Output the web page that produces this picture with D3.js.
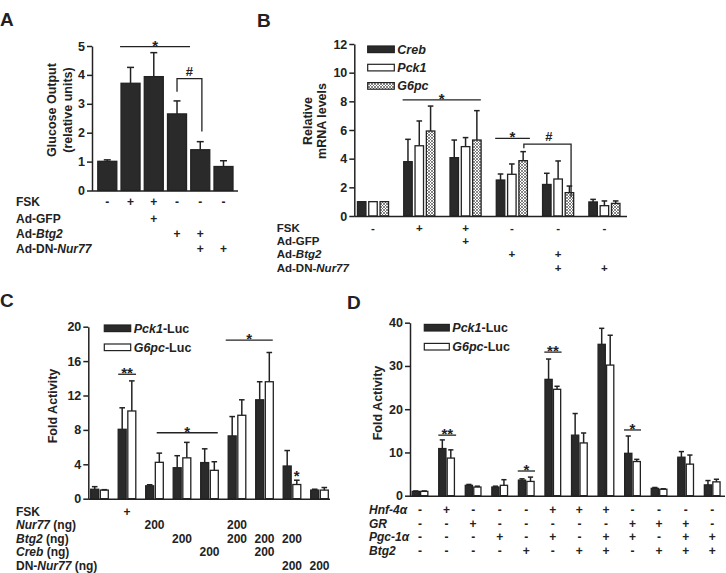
<!DOCTYPE html>
<html>
<head>
<meta charset="utf-8">
<script src="https://cdn.jsdelivr.net/npm/d3@7"></script>
<style>
body{margin:0;background:#fff}
svg{display:block;font-family:"Liberation Sans",Arial,sans-serif;font-weight:bold}
</style>
</head>
<body>
<svg id="fig" width="726" height="573"></svg>
<script>
'use strict'

// ---- panel A: glucose output ----
const aGlucose = [1.01, 3.71, 3.94, 2.65, 1.41, 0.83]
const aGlucoseErr = [0.05, 0.55, 0.83, 0.45, 0.28, 0.2]
const aRows = ['FSK', 'Ad-GFP', 'Ad-*Btg2*', 'Ad-DN-*Nur77*']
const aMarks = [
    ['-', '+', '+', '-', '-', '-'],
    ['', '', '+', '', '', ''],
    ['', '', '', '+', '+', ''],
    ['', '', '', '', '+', '+']]
const aTicks = [0, 1, 2, 3, 4, 5]

// ---- panel B: relative mRNA ----
const bCreb = [1, 3.79, 4.07, 2.51, 2.2, 0.98]
const bCrebErr = [0, 1.56, 1.23, 0.42, 0.78, 0.18]
const bPck1 = [1, 4.9, 4.84, 2.91, 2.58, 0.72]
const bPck1Err = [0, 1.73, 0.63, 0.72, 1.26, 0.33]
const bG6pc = [1, 5.93, 5.3, 3.86, 1.63, 0.88]
const bG6pcErr = [0, 1.74, 2.05, 0.63, 0.46, 0.17]
const bRows = ['FSK', 'Ad-GFP', 'Ad-*Btg2*', 'Ad-DN-*Nur77*']
const bMarks = aMarks
const bTicks = [0, 2, 4, 6, 8, 10, 12]

// ---- panel C: luciferase, FSK / Nur77 / Btg2 / Creb ----
const cPck1 = [1.1, 8.07, 1.5, 3.6, 4.2, 7.3, 11.5, 3.8, 1.0]
const cPck1Err = [0.3, 2.5, 0.12, 1.4, 1.6, 2.25, 2.1, 1.8, 0.1]
const cG6pc = [1.0, 10.2, 4.23, 4.75, 3.3, 9.7, 13.6, 1.65, 1.0]
const cG6pcErr = [0.05, 3.5, 1.07, 1.8, 1.0, 1.8, 3.4, 0.5, 0.3]
const cRows = ['FSK', '*Nur77* (ng)', '*Btg2* (ng)', '*Creb* (ng)', 'DN-*Nur77* (ng)']
const cMarks = [
    ['', '+', '', '', '', '', '', '', ''],
    ['', '', '200', '', '', '200', '', '', ''],
    ['', '', '', '200', '', '200', '200', '200', ''],
    ['', '', '', '', '200', '', '200', '', ''],
    ['', '', '', '', '', '', '', '200', '200']]
const cTicks = [0, 4, 8, 12, 16, 20]

// ---- panel D: luciferase, Hnf-4a / GR / Pgc-1a / Btg2 ----
const dPck1 = [1.0, 10.9, 2.4, 2.0, 3.6, 26.9, 14.0, 35.0, 9.8, 1.7, 8.9, 2.5]
const dPck1Err = [0.1, 2.0, 0.2, 0.2, 0.3, 4.7, 5.0, 3.7, 4.0, 0.2, 1.3, 1.0]
const dG6pc = [1.0, 8.7, 2.0, 2.4, 3.3, 24.6, 12.2, 30.2, 7.9, 1.5, 7.3, 3.2]
const dG6pcErr = [0.1, 1.9, 0.2, 1.3, 1.0, 0.7, 2.3, 6.9, 0.5, 0.1, 2.1, 0.6]
const dRows = ['*Hnf-4α*', '*GR*', '*Pgc-1α*', '*Btg2*']
const dMarks = [
    ['-', '+', '-', '-', '-', '+', '+', '+', '-', '-', '-', '-'],
    ['-', '-', '+', '-', '-', '-', '-', '-', '+', '+', '+', '-'],
    ['-', '-', '-', '+', '-', '+', '-', '+', '+', '-', '+', '+'],
    ['-', '-', '-', '-', '+', '-', '+', '+', '-', '+', '+', '+']]
const dTicks = [0, 10, 20, 30, 40]

const ink = '#222'
const dark = '#2a2a2a'

const svg = d3.select('#fig')

// crosshatch for G6pc bars
const pat = svg.append('defs').append('pattern')
    .attr('id', 'hatch')
    .attr('patternUnits', 'userSpaceOnUse')
    .attr('width', 3).attr('height', 3)
pat.append('rect').attr('width', 3).attr('height', 3).attr('fill', '#fff')
pat.append('path').attr('d', 'M0,0L3,3M3,0L0,3')
    .attr('stroke', '#555').attr('stroke-width', 0.7)

// text with *italic* parts
function rich(sel, str) {
    str.split('*').forEach((part, i) => {
        if (part) sel.append('tspan').attr('font-style', i % 2 ? 'italic' : null).text(part)
    })
    return sel
}

function barPanel(o) {
    const g = svg.append('g')
    const n = o.series[0].values.length
    const y = d3.scaleLinear().domain([0, o.ticks[o.ticks.length - 1]]).range([o.y0, o.yTop])
    const x = d3.scalePoint().domain(d3.range(n)).range(o.cx)
    const xi = d3.scaleBand().domain(o.series.map(s => s.name))
        .range([-o.gw / 2, o.gw / 2]).paddingInner(o.pad)
    const gx = i => x(0) + i * x.step()
    const rowFont = o.rowFont || 12

    // panel letter
    g.append('text').attr('x', o.letter[0]).attr('y', o.letter[1])
        .attr('font-size', 19).attr('fill', ink).text(o.name)

    // y axis
    const ax = g.append('g')
        .attr('transform', `translate(${o.ax},0)`)
        .call(d3.axisLeft(y).tickValues(o.ticks).tickFormat(d3.format('d'))
            .tickSize(5).tickPadding(2).tickSizeOuter(0))
    ax.attr('font-family', null)
    ax.select('.domain').attr('stroke', ink).attr('stroke-width', 1.5)
    ax.selectAll('.tick line').attr('stroke', ink).attr('stroke-width', 1.5)
    ax.selectAll('.tick text').attr('font-size', 12.5).attr('font-weight', 'bold').attr('fill', ink)

    // y label
    o.ylabel.lines.forEach((t, k) => {
        g.append('text')
            .attr('transform', `translate(${o.ylabel.x[k]},${o.ylabel.yc}) rotate(-90)`)
            .attr('text-anchor', 'middle').attr('font-size', 12.5).attr('fill', ink)
            .text(t)
    })

    // bars
    o.series.forEach(s => {
        const bg = g.append('g')
        bg.selectAll('rect')
            .data(s.values)
            .join('rect')
            .attr('x', (d, i) => x(i) + xi(s.name))
            .attr('width', xi.bandwidth())
            .attr('y', d => y(d))
            .attr('height', d => o.y0 - y(d))
            .attr('fill', s.fill)
            .attr('stroke', ink)
            .attr('stroke-width', 1.3)

        // error bars (upper only)
        const eb = bg.selectAll('.err')
            .data(s.values.map((v, i) => ({v, e: s.err[i], i})).filter(d => d.e > 0))
            .join('g').attr('class', 'err')
            .attr('transform', d => `translate(${x(d.i) + xi(s.name) + xi.bandwidth() / 2},0)`)
        eb.append('line')
            .attr('y1', d => y(d.v)).attr('y2', d => y(d.v + d.e))
            .attr('stroke', ink).attr('stroke-width', 1.5)
        eb.append('line')
            .attr('x1', -o.cap).attr('x2', o.cap)
            .attr('y1', d => y(d.v + d.e)).attr('y2', d => y(d.v + d.e))
            .attr('stroke', ink).attr('stroke-width', 1.5)
    })

    // x axis line
    g.append('line')
        .attr('x1', o.ax).attr('x2', o.axEnd)
        .attr('y1', o.y0 + 0.5).attr('y2', o.y0 + 0.5)
        .attr('stroke', ink).attr('stroke-width', 1.5)

    // significance marks
    o.sig.forEach(s => {
        if (s.legs) {
            g.append('path')
                .attr('d', `M${gx(s.from)},${y(s.legs[0])}V${y(s.v)}H${gx(s.to)}V${y(s.legs[1])}`)
                .attr('fill', 'none').attr('stroke', ink).attr('stroke-width', 1.3)
        } else if (s.from !== s.to) {
            g.append('line')
                .attr('x1', gx(s.from)).attr('x2', gx(s.to))
                .attr('y1', y(s.v)).attr('y2', y(s.v))
                .attr('stroke', ink).attr('stroke-width', 1.3)
        }
        const isHash = s.label === '#'
        g.append('text')
            .attr('x', s.tx != null ? gx(s.tx) : (gx(s.from) + gx(s.to)) / 2)
            .attr('y', y(s.v) + (isHash ? -3 : 4))
            .attr('text-anchor', 'middle')
            .attr('font-size', isHash ? 13 : 15)
            .attr('fill', ink)
            .text(s.label)
    })

    // legend
    if (o.legend) {
        o.series.forEach((s, k) => {
            const ly = o.legend.y + k * o.legend.dy
            g.append('rect')
                .attr('x', o.legend.x).attr('y', ly - 3.3)
                .attr('width', o.legend.w).attr('height', 6.6)
                .attr('fill', s.fill).attr('stroke', ink).attr('stroke-width', 1.2)
            rich(g.append('text')
                .attr('x', o.legend.x + o.legend.w + 3).attr('y', ly + 4.5)
                .attr('font-size', 12.5).attr('fill', ink), s.label)
        })
    }

    // treatment rows
    o.rows.forEach((r, k) => {
        const ty = o.rowY[k]
        rich(g.append('text').attr('x', o.rowX).attr('y', ty)
            .attr('font-size', rowFont).attr('fill', ink), r)
        g.append('g').selectAll('text')
            .data(o.marks[k])
            .join('text')
            .attr('x', (d, i) => x(i))
            .attr('y', ty)
            .attr('text-anchor', 'middle')
            .attr('font-size', rowFont)
            .attr('fill', ink)
            .text(d => d)
    })
}

barPanel({
    name: 'A', letter: [0, 26],
    series: [{name: 'glc', values: aGlucose, err: aGlucoseErr, fill: dark}],
    ticks: aTicks, y0: 190.5, yTop: 46,
    ax: 92, axEnd: 238, cx: [107.3, 223.5], gw: 19, pad: 0, cap: 3.5,
    ylabel: {lines: ['Glucose Output', '(relative units)'], x: [56, 72], yc: 110},
    sig: [
        {from: 0.55, to: 3.56, v: 4.98, label: '*'},
        {from: 3.0, to: 4.07, v: 3.87, legs: [3.42, 2.04], label: '#', tx: 3.53}],
    rows: aRows, marks: aMarks, rowX: 16, rowY: [206, 222.5, 237.5, 252.5]
})

barPanel({
    name: 'B', letter: [257, 26.5],
    series: [
        {name: 'Creb', label: '*Creb*', values: bCreb, err: bCrebErr, fill: dark},
        {name: 'Pck1', label: '*Pck1*', values: bPck1, err: bPck1Err, fill: '#fff'},
        {name: 'G6pc', label: '*G6pc*', values: bG6pc, err: bG6pcErr, fill: 'url(#hatch)'}],
    ticks: bTicks, y0: 216, yTop: 44,
    ax: 354.3, axEnd: 627, cx: [373, 604.4], gw: 31.1, pad: 0.25, cap: 2.8,
    ylabel: {lines: ['Relative', 'mRNA levels'], x: [312, 326], yc: 121},
    legend: {x: 367.7, y: 49.3, dy: 18.3, w: 26.6},
    sig: [
        {from: 0.64, to: 2.33, v: 8.1, label: '*'},
        {from: 2.64, to: 3.39, v: 5.42, label: '*'},
        {from: 3.26, to: 4.28, v: 5.02, legs: [4.72, 1.3], label: '#', tx: 3.8}],
    rows: bRows, marks: bMarks, rowX: 276.7, rowY: [231.5, 244.5, 258, 271.5], rowFont: 11.5
})

barPanel({
    name: 'C', letter: [0, 307],
    series: [
        {name: 'Pck1', label: '*Pck1*-Luc', values: cPck1, err: cPck1Err, fill: dark},
        {name: 'G6pc', label: '*G6pc*-Luc', values: cG6pc, err: cG6pcErr, fill: '#fff'}],
    ticks: cTicks, y0: 498.7, yTop: 326.7,
    ax: 88.3, axEnd: 330, cx: [99.5, 319.5], gw: 17.6, pad: 0.17, cap: 2.8,
    ylabel: {lines: ['Fold Activity'], x: [57], yc: 406},
    legend: {x: 104.3, y: 328.3, dy: 19, w: 26.4},
    sig: [
        {from: 0.68, to: 1.33, v: 14.47, label: '**'},
        {from: 2.08, to: 4.3, v: 7.67, label: '*'},
        {from: 4.59, to: 6.3, v: 18.45, label: '*'},
        {from: 7.17, to: 7.17, v: 2.56, label: '*'}],
    rows: cRows, marks: cMarks, rowX: 16, rowY: [515.5, 529, 542.5, 556, 569.5]
})

barPanel({
    name: 'D', letter: [347, 309],
    series: [
        {name: 'Pck1', label: '*Pck1*-Luc', values: dPck1, err: dPck1Err, fill: dark},
        {name: 'G6pc', label: '*G6pc*-Luc', values: dG6pc, err: dG6pcErr, fill: '#fff'}],
    ticks: dTicks, y0: 495.7, yTop: 322.7,
    ax: 410, axEnd: 725, cx: [420, 712.2], gw: 15.7, pad: 0.15, cap: 2.6,
    ylabel: {lines: ['Fold Activity'], x: [382], yc: 403},
    legend: {x: 424.3, y: 327.7, dy: 19, w: 25},
    sig: [
        {from: 0.69, to: 1.36, v: 14.0, label: '**'},
        {from: 3.68, to: 4.33, v: 5.71, label: '*'},
        {from: 4.68, to: 5.33, v: 33.2, label: '**'},
        {from: 7.68, to: 8.32, v: 15.2, label: '*'}],
    rows: dRows, marks: dMarks, rowX: 369, rowY: [514, 527.5, 541, 555]
})
</script>
</body>
</html>
